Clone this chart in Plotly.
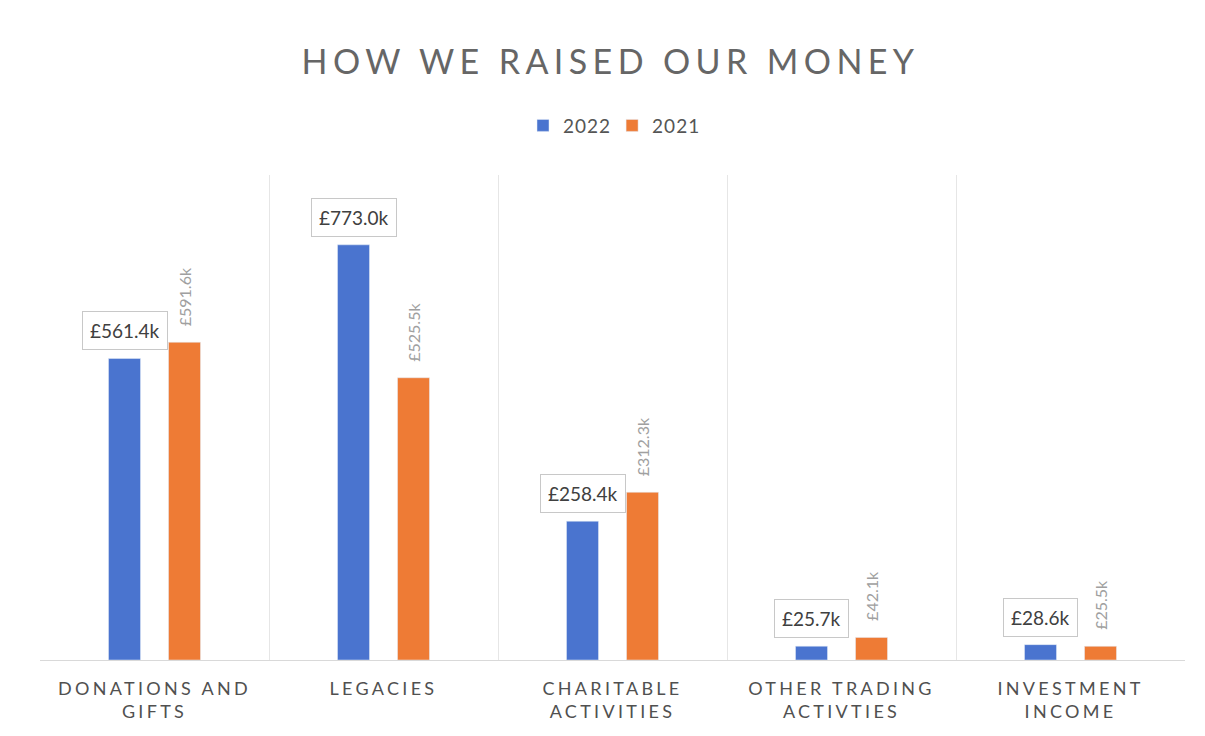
import plotly.graph_objects as go

categories = ['DONATIONS AND<br>GIFTS', 'LEGACIES', 'CHARITABLE<br>ACTIVITIES',
              'OTHER TRADING<br>ACTIVTIES', 'INVESTMENT<br>INCOME']
values_2022 = [561.4, 773.0, 258.4, 25.7, 28.6]
values_2021 = [591.6, 525.5, 312.3, 42.1, 25.5]
labels_2022 = ['£561.4k', '£773.0k', '£258.4k', '£25.7k', '£28.6k']
labels_2021 = ['£591.6k', '£525.5k', '£312.3k', '£42.1k', '£25.5k']

blue = '#4A74CF'
orange = '#EE7B35'

fig = go.Figure()
fig.add_trace(go.Bar(x=categories, y=values_2022, name='2022', marker_color=blue))
fig.add_trace(go.Bar(x=categories, y=values_2021, name='2021', marker_color=orange))

# boxed labels over the 2022 bars
for cat, val, lab in zip(categories, values_2022, labels_2022):
    fig.add_annotation(x=cat, y=val, text=lab, xshift=-30, yshift=8,
                       xanchor='center', yanchor='bottom', showarrow=False,
                       font=dict(family='Lato', size=19, color='#404040'),
                       bgcolor='white', bordercolor='#c8c8c8', borderwidth=1, borderpad=7)

# rotated grey labels over the 2021 bars
for cat, val, lab in zip(categories, values_2021, labels_2021):
    fig.add_annotation(x=cat, y=val, text=lab, xshift=30, yshift=14, textangle=-90,
                       xanchor='center', yanchor='bottom', showarrow=False,
                       font=dict(family='Lato', size=16, color='#a0a0a0'))

fig.update_layout(
    width=1205, height=736,
    paper_bgcolor='white', plot_bgcolor='white',
    margin=dict(l=32, r=28, t=167, b=84),
    title=dict(text='HOW WE RAISED OUR MONEY', x=0.5, xanchor='center', y=0.927, yanchor='middle',
               font=dict(family='Lato', size=34, color='#666666')),
    legend=dict(orientation='h', x=0.5, xanchor='center', y=1.102, yanchor='middle',
                font=dict(family='Lato', size=19, color='#555555'), traceorder='normal'),
    barmode='group', bargap=0.476, bargroupgap=0.467,
    showlegend=True,
)
fig.update_xaxes(tickson='boundaries', showgrid=True, gridcolor='#e6e6e6', gridwidth=1,
                 showline=True, linecolor='#d9d9d9', ticks='', range=[-0.5, 4.5],
                 ticklabelstandoff=12,
                 tickfont=dict(family='Lato', size=18, color='#505050'))
fig.update_yaxes(range=[0, 903], visible=False, showgrid=False, zeroline=False)

# letter spacing like the original (title and category labels)
spacing_js = """
var gd = document.getElementById('{plot_id}');
function spaceText() {
  gd.querySelectorAll('.gtitle').forEach(function(t) { t.style.letterSpacing = '5.4px'; });
  gd.querySelectorAll('.xtick text').forEach(function(t) { t.style.letterSpacing = '3.3px'; });
  gd.querySelectorAll('.legendtext').forEach(function(t) { t.style.letterSpacing = '1px'; });
}
spaceText();
gd.on('plotly_afterplot', spaceText);
"""

fig.write_html('out.html', post_script=spacing_js)
